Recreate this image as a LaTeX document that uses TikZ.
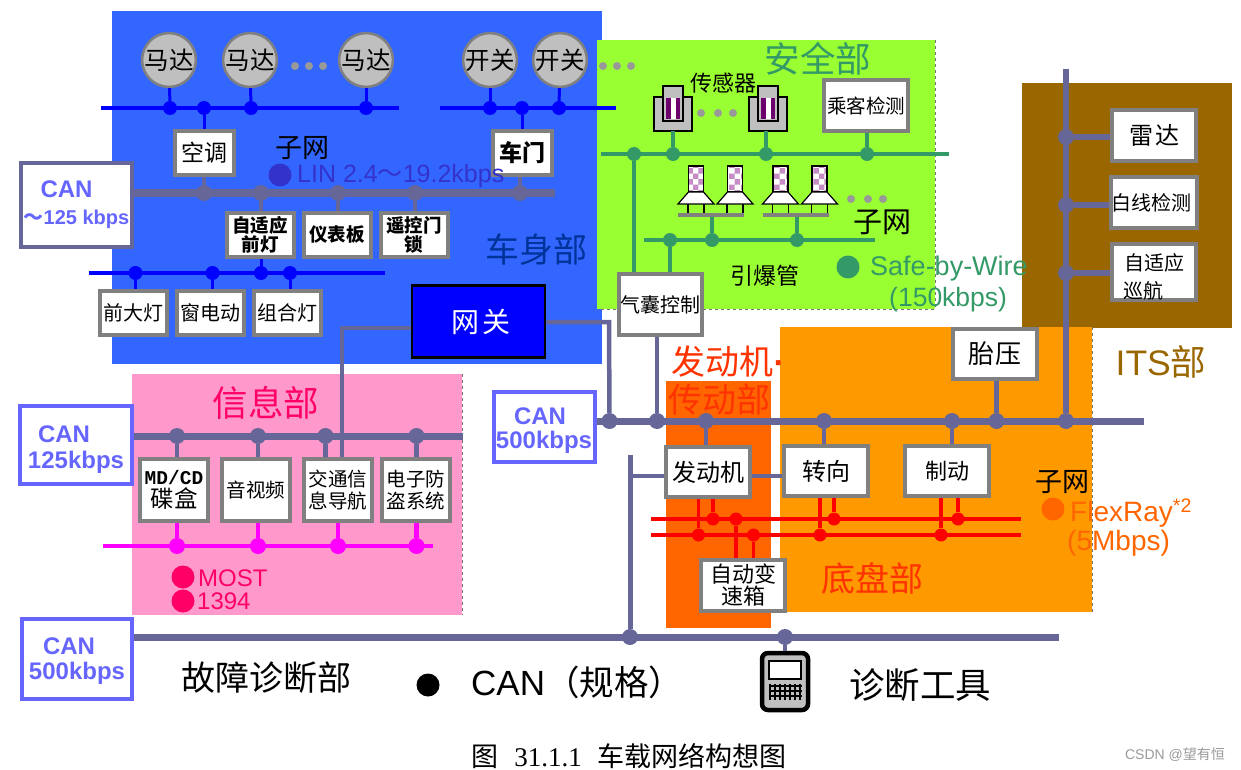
\documentclass[tikz,border=0pt]{standalone}
\usepackage{fontspec}
\usepackage{xcolor}
\usepackage{tikz}
\usetikzlibrary{positioning,patterns}
\setmainfont{Noto Sans CJK SC}
\newfontfamily\latinfont{Liberation Sans}
\newfontfamily\serifnum{Liberation Serif}
\newfontfamily\monofont{Liberation Mono}
\newcommand{\fsz}[1]{\fontsize{#1}{#1}\selectfont}
\definecolor{bodyblue}{HTML}{3366FF}
\definecolor{safegreen}{HTML}{99FF33}
\definecolor{itsbrown}{HTML}{996600}
\definecolor{chassisorange}{HTML}{FF9900}
\definecolor{engineorange}{HTML}{FF6600}
\definecolor{infopink}{HTML}{FF99CC}
\definecolor{canline}{HTML}{666699}
\definecolor{canlabel}{HTML}{6666FF}
\definecolor{eculine}{HTML}{808080}
\definecolor{wiregreen}{HTML}{339966}
\definecolor{mostred}{HTML}{FF0066}
\definecolor{mostwire}{HTML}{FF00FF}
\definecolor{flexred}{HTML}{FF3300}
\definecolor{linindigo}{HTML}{3333CC}
\definecolor{bodytext}{HTML}{003399}
\tikzset{
    sensorpic/.pic={
        \draw[fill=black!25, line width=1.2pt] (-19,0) rectangle (19,34);
        \draw[fill=black!25, line width=1.2pt] (-10,-11) rectangle (10,24);
        \fill[violet!85!black] (-7,1) rectangle (7,22);
        \fill[white] (-2,1) rectangle (3,22);
        \coordinate (-base) at (0,34);
    },
    squibpic/.pic={
        \draw[line width=1.2pt] (-8,38) -- (-8,47) (8,38) -- (8,47);
        \fill[white] (-7.5,0) rectangle (7.5,26);
        \fill[pattern=checkerboard, pattern color=violet!45] (-7.5,0) rectangle (7.5,26);
        \draw[line width=1.2pt] (-7.5,0) rectangle (7.5,26);
        \draw[fill=white, line width=1.2pt] (-7.5,26) -- (7.5,26) -- (18,38) -- (-18,38) -- cycle;
    },
    toolpic/.pic={
        \draw[fill=black!25, line width=4.5pt, rounded corners=6pt] (-23,2) rectangle (23,59);
        \draw[fill=white, line width=2pt] (-16,10) rectangle (16,28);
        \draw[line width=1.1pt, step=5pt] (-16,33) grid (17,49);
        \coordinate (-top) at (0,0);
    }
}
\begin{document}
\begin{tikzpicture}[
    x=1pt, y=-1pt,
    node distance=6pt,
    region/.style={anchor=north west, inner sep=0pt, outer sep=0pt},
    ecu/.style={draw=eculine, line width=4pt, fill=white, inner sep=0pt, align=center},
    ecurow/.style={ecu, minimum width=67pt, minimum height=44pt},
    ecushort/.style={ecu, minimum width=59pt, minimum height=44pt},
    ecuinfo/.style={ecu, minimum width=68pt, minimum height=62pt},
    ecuwide/.style={ecu, minimum width=83.5pt, minimum height=50.5pt},
    canbox/.style={draw=canlabel, line width=4pt, fill=white, inner sep=0pt, align=center,
        text=canlabel, font=\latinfont\bfseries\fsz{24}},
    motor/.style={circle, draw=eculine, line width=2.5pt, fill=black!25, inner sep=0pt,
        minimum size=53pt, font=\fsz{24.5}},
    pause/.style={circle, fill=black!40, inner sep=0pt, minimum size=8pt},
    linbus/.style={blue, line width=3.5pt},
    linstub/.style={blue, line width=3pt},
    canbus/.style={canline, line width=7pt},
    canstub/.style={canline, line width=4.5pt},
    safebus/.style={wiregreen, line width=3.5pt},
    mostbus/.style={mostwire, line width=4.5pt},
    flexbus/.style={red, line width=4pt},
    flexstub/.style={red, line width=3.5pt},
    lintap/.style={circle, fill=blue, inner sep=0pt, minimum size=14pt},
    cantap/.style={circle, fill=canline, inner sep=0pt, minimum size=16pt},
    safetap/.style={circle, fill=wiregreen, inner sep=0pt, minimum size=14pt},
    mosttap/.style={circle, fill=mostwire, inner sep=0pt, minimum size=16pt},
    flextap/.style={circle, fill=red, inner sep=0pt, minimum size=13pt},
    legendtap/.style={circle, inner sep=0pt, minimum size=23pt},
    heading/.style={font=\fsz{34}},
    headingbig/.style={font=\fsz{35.5}}
]
    \useasboundingbox (0,0) rectangle (1241,770);

    \node[region, fill=bodyblue, minimum width=490pt, minimum height=353pt] (bodypart) at (112,11) {};
    \node[region, fill=safegreen, minimum width=338pt, minimum height=269pt] (safepart) at (597,40) {};
    \node[region, fill=itsbrown, minimum width=210pt, minimum height=245pt] (itspart) at (1022,83) {};
    \node[region, fill=engineorange, minimum width=105pt, minimum height=247pt] (enginepart) at (666,381) {};
    \node[region, fill=chassisorange, minimum width=312pt, minimum height=285pt] (chassispart) at (780,327) {};
    \node[region, fill=infopink, minimum width=330pt, minimum height=241pt] (infopart) at (132,374) {};
    \draw[black!55, dashed, line width=1pt] (safepart.north east) -- (safepart.south east) -- (safepart.south west);
    \draw[black!55, dashed, line width=1pt] (infopart.north east) -- (infopart.south east);
    \draw[black!55, dashed, line width=1pt] (chassispart.north east) -- (chassispart.south east);

    \node[motor] (motorA) at (169,60) {马达};
    \node[motor] (motorB) at (250,60) {马达};
    \node[motor] (motorC) at (366,60) {马达};
    \node[motor] (switchA) at (490,60) {开关};
    \node[motor] (switchB) at (560,60) {开关};
    \node[pause] (pauseA) at (295,66) {};
    \node[pause] (pauseB) at (309,66) {};
    \node[pause] (pauseC) at (323,66) {};
    \node[pause] (pauseD) at (603,66) {};
    \node[pause] (pauseE) at (617,66) {};
    \node[pause] (pauseF) at (631,66) {};

    \node[ecushort, font=\fsz{23}] (aircon) at (204.5,153) {空调};
    \node[ecushort, font=\bfseries\fsz{23}] (door) at (522.5,153) {车门};
    \node[ecurow, font=\bfseries\fsz{18.5}] (adaptive) at (260,235) {自适应\\前灯};
    \node[ecurow, font=\bfseries\fsz{18.5}, right=of adaptive] (dash) {仪表板};
    \node[ecurow, font=\bfseries\fsz{18.5}, right=of dash] (lock) {遥控门\\锁};
    \node[ecurow, font=\fsz{20}] (headlamp) at (133.5,313) {前大灯};
    \node[ecurow, font=\fsz{20}, right=of headlamp] (window) {窗电动};
    \node[ecurow, font=\fsz{20}, right=of window] (combo) {组合灯};
    \node[draw=black, line width=2.5pt, fill=blue, text=white, inner sep=0pt,
        minimum width=133pt, minimum height=72pt, font=\fsz{28}] (gateway) at (478.5,321.5) {\hspace*{4pt}网\hspace{3pt}关};
    \node[canbox, draw=canline, minimum width=111pt, minimum height=84pt] (canbody) at (76.5,205)
        {CAN\hspace*{20pt}\\[3pt]{\fsz{20}\fontspec{Noto Sans CJK SC}～}{\fsz{20}125 kbps}};

    \node[ecuwide] (occupant) at (866,105.5) {\fsz{19.5}乘客检测};
    \node[ecuwide, minimum height=61pt] (airbag) at (660.5,304.5) {\fsz{20}气囊控制};
    \pic (sensorA) at (673,97) {sensorpic};
    \pic (sensorB) at (768,97) {sensorpic};
    \node[pause] (pauseG) at (701,113) {};
    \node[pause] (pauseH) at (718,113) {};
    \node[pause] (pauseI) at (733,113) {};
    \pic at (696,166) {squibpic};
    \pic at (735,166) {squibpic};
    \pic at (780.5,166) {squibpic};
    \pic at (819.5,166) {squibpic};
    \node[fill=eculine, inner sep=0pt, minimum width=66pt, minimum height=4.5pt] (barA) at (711,215) {};
    \node[fill=eculine, inner sep=0pt, minimum width=66pt, minimum height=4.5pt] (barB) at (796,215) {};
    \node[pause] (pauseJ) at (851,199) {};
    \node[pause] (pauseK) at (868,199) {};
    \node[pause] (pauseL) at (883,199) {};

    \node[ecuwide, font=\fsz{24}] (radar) at (1154,135.5) {雷\hspace{2pt}达};
    \node[ecuwide, font=\fsz{20}, below=12.5pt of radar] (lane) {白线检测\hspace*{6pt}};
    \node[ecuwide, font=\fsz{20}, below=12.5pt of lane, align=left] (cruise)
        {\rule{0pt}{26pt}\hspace*{8pt}自适应\hspace*{8pt}\\[8pt]\hspace*{7pt}巡航};

    \node[ecuwide, font=\fsz{26}] (tire) at (995,354) {胎\hspace{2pt}压};
    \node[ecuwide, font=\fsz{24}] (engine) at (708,472) {发动机};
    \node[ecuwide, font=\fsz{24}] (steering) at (826,471) {转向};
    \node[ecuwide, font=\fsz{22}] (brake) at (947,471) {制动};
    \node[ecuwide, font=\fsz{22}] (gearbox) at (743,585.5) {自动变\\速箱};
    \node[canbox, minimum width=101pt, minimum height=70pt] (canmid) at (544,427)
        {\rule{0pt}{24pt}CAN\hspace*{8pt}\\500kbps};

    \node[canbox, minimum width=112pt, minimum height=78pt] (caninfo) at (76,445)
        {\rule{0pt}{26pt}CAN\hspace*{24pt}\\[2pt]125kbps};
    \node[ecuinfo] (disc) at (174,490) {{\monofont\bfseries\fsz{19.5}MD/CD}\\[2pt]{\fsz{23.5}碟盒}};
    \node[ecuinfo, font=\fsz{19.5}, right=10pt of disc] (media) {音视频};
    \node[ecuinfo, font=\fsz{19.5}, right=10pt of media] (navi) {交通信\\[3pt]息导航};
    \node[ecuinfo, font=\fsz{19.5}, right=of navi] (alarm) {电子防\\[3pt]盗系统};

    \node[canbox, minimum width=110pt, minimum height=80pt] (candiag) at (77,659)
        {\rule{0pt}{20pt}CAN\hspace*{16pt}\\[1pt]500kbps};
    \pic (tool) at (785,651) {toolpic};

    \coordinate (linA-w) at (101,108);
    \coordinate (linA-e) at (399,108);
    \coordinate (linB-w) at (440,108);
    \coordinate (linB-e) at (616,108);
    \coordinate (linC-w) at (88.5,273);
    \coordinate (linC-e) at (385,273);
    \coordinate (bodycan-w) at (134,193);
    \coordinate (bodycan-e) at (555,193);
    \node[lintap] (linA1) at (170,108) {};
    \node[lintap] (linA2) at (204,108) {};
    \node[lintap] (linA3) at (251,108) {};
    \node[lintap] (linA4) at (366,108) {};
    \node[lintap] (linB1) at (490,108) {};
    \node[lintap] (linB2) at (522,108) {};
    \node[lintap] (linB3) at (559,108) {};
    \node[lintap] (linC1) at (135.5,273) {};
    \node[lintap] (linC2) at (212.5,273) {};
    \node[lintap] (linC3) at (261,273) {};
    \node[lintap] (linC4) at (290,273) {};
    \node[cantap] (bodycan1) at (204,193) {};
    \node[cantap] (bodycan2) at (261,193) {};
    \node[cantap] (bodycan3) at (338,193) {};
    \node[cantap] (bodycan4) at (415,193) {};
    \node[cantap] (bodycan5) at (520,193) {};

    \draw[linbus] (linA-w) -- (linA-e);
    \draw[linbus] (linB-w) -- (linB-e);
    \draw[linbus] (linC-w) -- (linC-e);
    \draw[linstub] (linA1) -- (motorA);
    \draw[linstub] (linA3) -- (motorB);
    \draw[linstub] (linA4) -- (motorC);
    \draw[linstub] (linB1) -- (switchA);
    \draw[linstub] (linB3) -- (switchB);
    \draw[linstub] (linA2) -- (linA2 |- aircon.north);
    \draw[linstub] (linB2) -- (linB2 |- door.north);
    \draw[linstub] (linC1) -- (linC1 |- headlamp.north);
    \draw[linstub] (linC2) -- (linC2 |- window.north);
    \draw[linstub] (linC3) -- (linC3 |- adaptive.south);
    \draw[linstub] (linC4) -- (linC4 |- combo.north);
    \draw[canbus] (bodycan-w) -- (bodycan-e);
    \draw[canstub] (bodycan1) -- (bodycan1 |- aircon.south);
    \draw[canstub] (bodycan2) -- (bodycan2 |- adaptive.north);
    \draw[canstub] (bodycan3) -- (bodycan3 |- dash.north);
    \draw[canstub] (bodycan4) -- (bodycan4 |- lock.north);
    \draw[canstub] (bodycan5) -- (bodycan5 |- door.south);

    \coordinate (safeA-w) at (601,154);
    \coordinate (safeA-e) at (949,154);
    \coordinate (safeB-w) at (644,240);
    \coordinate (safeB-e) at (875,240);
    \node[safetap] (safeA1) at (634,154) {};
    \node[safetap] (safeA2) at (673,154) {};
    \node[safetap] (safeA3) at (766,154) {};
    \node[safetap] (safeA4) at (867,154) {};
    \node[safetap] (safeB1) at (670,240) {};
    \node[safetap] (safeB2) at (712,240) {};
    \node[safetap] (safeB3) at (797,240) {};
    \draw[safebus] (safeA-w) -- (safeA-e);
    \draw[safebus] (safeB-w) -- (safeB-e);
    \draw[safebus] (safeA1) -- (safeA1 |- airbag.north);
    \draw[safebus] (safeA2) -- (safeA2 |- sensorA-base);
    \draw[safebus] (safeA3) -- (safeA3 |- sensorB-base);
    \draw[safebus] (safeA4) -- (safeA4 |- occupant.south);
    \draw[safebus] (safeB1) -- (safeB1 |- airbag.north);
    \draw[safebus] (safeB2) -- (safeB2 |- barA.south);
    \draw[safebus] (safeB3) -- (safeB3 |- barB.south);

    \coordinate (maincan-e) at (1143.5,421);
    \coordinate (itsline-n) at (1066,69);
    \coordinate (diagbus-e) at (1059,637);
    \coordinate (diagline-n) at (630,455);
    \coordinate (diagline-m) at (630,476);
    \coordinate (enginelink) at (752,476);
    \coordinate (gwleft) at (342,328);
    \coordinate (gwright) at (609,322);
    \node[cantap] (main1) at (609.5,421) {};
    \node[cantap] (main2) at (657,421) {};
    \node[cantap] (main3) at (706,421) {};
    \node[cantap] (main4) at (824,421) {};
    \node[cantap] (main5) at (952,421) {};
    \node[cantap] (main6) at (996.5,421) {};
    \node[cantap] (main7) at (1066,421) {};
    \node[cantap] (its1) at (1066,137) {};
    \node[cantap] (its2) at (1066,205) {};
    \node[cantap] (its3) at (1066,273) {};
    \node[cantap] (diag1) at (630,637) {};
    \node[cantap] (diag2) at (785,637) {};
    \draw[canbus] (canmid.east |- main1) -- (maincan-e);
    \draw[canstub] (airbag.south -| main2) -- (main2);
    \draw[canstub] (main3) -- (main3 |- engine.north);
    \draw[canstub] (main4) -- (main4 |- steering.north);
    \draw[canstub] (main5) -- (main5 |- brake.north);
    \draw[canstub] (main6) -- (main6 |- tire.south);
    \draw[canbus, line width=6pt] (itsline-n) -- (main7);
    \draw[canstub, line width=5.5pt] (its1) -- (its1 -| radar.west);
    \draw[canstub, line width=5.5pt] (its2) -- (its2 -| lane.west);
    \draw[canstub, line width=5.5pt] (its3) -- (its3 -| cruise.west);
    \draw[canbus] (candiag.east |- diagbus-e) -- (diagbus-e);
    \draw[canbus, line width=5pt] (diagline-n) -- (diag1);
    \draw[canstub] (diagline-m) -- (diagline-m -| engine.west);
    \draw[canstub] (enginelink -| engine.east) -- (enginelink -| steering.west);
    \draw[canstub] (diag2) -- (tool-top);
    \draw[canstub] (gateway.west |- gwleft) -- (gwleft) -- (gwleft |- navi.north);
    \draw[canstub] (gateway.east |- gwright) -- (gwright) -- (main1);

    \coordinate (flexA-w) at (651,519);
    \coordinate (flexA-e) at (1021,519);
    \coordinate (flexB-w) at (651,535);
    \coordinate (flexB-e) at (1021,535);
    \node[flextap] (flexA1) at (713,519) {};
    \node[flextap] (flexA2) at (736,519) {};
    \node[flextap] (flexA3) at (834,519) {};
    \node[flextap] (flexA4) at (958,519) {};
    \node[flextap] (flexB1) at (698.5,535) {};
    \node[flextap] (flexB2) at (753.5,535) {};
    \node[flextap] (flexB3) at (820,535) {};
    \node[flextap] (flexB4) at (941,535) {};
    \draw[flexbus] (flexA-w) -- (flexA-e);
    \draw[flexbus] (flexB-w) -- (flexB-e);
    \draw[flexstub] (flexA1) -- (flexA1 |- engine.south);
    \draw[flexstub] (flexB1) -- (flexB1 |- engine.south);
    \draw[flexstub] (flexA3) -- (flexA3 |- steering.south);
    \draw[flexstub] (flexB3) -- (flexB3 |- steering.south);
    \draw[flexstub] (flexA4) -- (flexA4 |- brake.south);
    \draw[flexstub] (flexB4) -- (flexB4 |- brake.south);
    \draw[flexstub] (flexA2) -- (flexA2 |- gearbox.north);
    \draw[flexstub] (flexB2) -- (flexB2 |- gearbox.north);

    \coordinate (infobus-e) at (463,436);
    \coordinate (mostbus-w) at (103,546);
    \coordinate (mostbus-e) at (433,546);
    \node[cantap] (info1) at (177,436) {};
    \node[cantap] (info2) at (258,436) {};
    \node[cantap] (info3) at (325.5,436) {};
    \node[cantap] (info4) at (416.5,436) {};
    \node[mosttap] (most1) at (177,546) {};
    \node[mosttap] (most2) at (258,546) {};
    \node[mosttap] (most3) at (338,546) {};
    \node[mosttap] (most4) at (416.5,546) {};
    \draw[canbus] (caninfo.east |- infobus-e) -- (infobus-e);
    \draw[canstub] (info1) -- (info1 |- disc.north);
    \draw[canstub] (info2) -- (info2 |- media.north);
    \draw[canstub] (info3) -- (info3 |- navi.north);
    \draw[canstub] (info4) -- (info4 |- alarm.north);
    \draw[mostbus] (mostbus-w) -- (mostbus-e);
    \draw[mostbus] (most1) -- (most1 |- disc.south);
    \draw[mostbus] (most2) -- (most2 |- media.south);
    \draw[mostbus] (most3) -- (most3 |- navi.south);
    \draw[mostbus] (most4) -- (most4 |- alarm.south);

    \node[font=\fsz{27}] (subnetA) at (302,148) {子网};
    \node[legendtap, fill=linindigo] (linmark) at (280,175) {};
    \node[anchor=west, inner sep=0pt, text=linindigo, font=\latinfont\fsz{25}] (lintext) at (297,176) {LIN 2.4{\fontspec{Noto Sans CJK SC}～}19.2kbps};
    \node[heading, text=bodytext] (bodytitle) at (536,250) {车身部};

    \node[headingbig, text=wiregreen] (safetitle) at (818,59) {安全部};
    \node[font=\fsz{22}] (sensorlabel) at (723.5,83) {传感器};
    \node[font=\fsz{29}] (subnetB) at (882.5,222) {子网};
    \node[font=\fsz{23}] (squiblabel) at (765,276) {引爆管};
    \node[legendtap, fill=wiregreen] (safemark) at (848,267) {};
    \node[anchor=west, inner sep=0pt, text=wiregreen, font=\latinfont\fsz{27}] (safetext) at (870,269) {Safe-by-Wire};
    \node[anchor=west, inner sep=0pt, text=wiregreen, font=\latinfont\fsz{26.5}] (saferate) at (889,300) {(150kbps)};

    \node[headingbig, text=itsbrown] (itstitle) at (1161,362) {{\latinfont ITS}部};

    \node[heading, anchor=west, text=flexred] (enginetitle) at (668,362) {发动机{\latinfont\bfseries·}};
    \node[heading, text=flexred] (drivetitle) at (719,400) {传动部};
    \node[heading, text=flexred] (chassistitle) at (872.5,578) {底盘部};
    \node[font=\fsz{27}] (subnetC) at (1062,482) {子网};
    \node[legendtap, fill=engineorange] (flexmark) at (1053,509) {};
    \node[anchor=west, inner sep=0pt, text=engineorange, font=\latinfont\fsz{28}] (flextext) at (1070,513) {FlexRay\textsuperscript{*2}};
    \node[anchor=west, inner sep=0pt, text=engineorange, font=\latinfont\fsz{28}] (flexrate) at (1067,543) {(5Mbps)};

    \node[headingbig, text=mostred] (infotitle) at (266,403) {信息部};
    \node[legendtap, fill=mostred] (mostmark) at (183,577) {};
    \node[legendtap, fill=mostred] (ieeemark) at (183,601) {};
    \node[anchor=west, inner sep=0pt, text=mostred, font=\latinfont\fsz{24}] (mosttext) at (198,578) {MOST};
    \node[anchor=west, inner sep=0pt, text=mostred, font=\latinfont\fsz{24}] (ieeetext) at (197,601) {1394};

    \node[heading] (diagtitle) at (266,678) {故障诊断部};
    \node[legendtap, fill=black] (canmark) at (428,685) {};
    \node[anchor=west, inner sep=0pt, font=\fsz{34.5}] (canspec) at (471,682) {{\latinfont\fsz{35}CAN}（规格）};
    \node[headingbig] (toollabel) at (920,685) {诊断工具};

    \node[font=\fsz{27}] (caption) at (629,756) {图\hspace*{16pt}{\serifnum 31.1.1}\hspace*{16pt}车载网络构想图};
    \node[text=black!40, font=\fsz{14}] (watermark) at (1175,755) {{\latinfont CSDN @}望有恒};
\end{tikzpicture}
\end{document}
